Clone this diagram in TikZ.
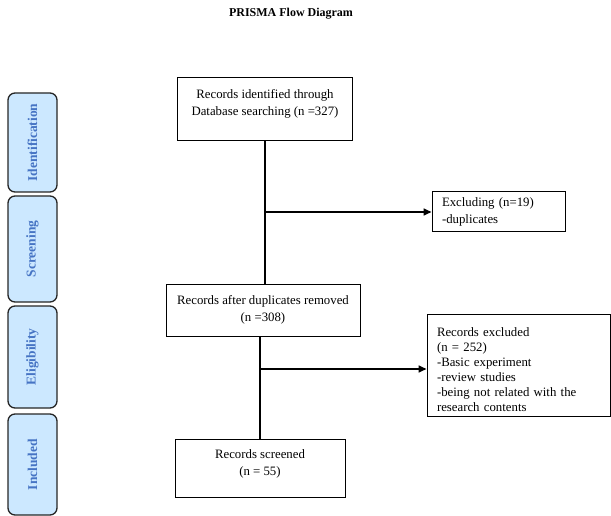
\documentclass[tikz,border=0pt]{standalone}
\usepackage{fontspec}
\setmainfont{Liberation Serif}
\usepackage{xcolor}
\usetikzlibrary{arrows.meta}
\definecolor{stagefill}{RGB}{204,232,255}
\definecolor{stagetext}{RGB}{70,116,196}
\newcommand{\padbelow}[1]{\rule[-#1]{0pt}{#1}}
\newcommand{\padabove}[1]{\rule{0pt}{#1}}

\begin{document}
\begin{tikzpicture}[x=1pt, y=-1pt,
  stage/.style={draw=black!85, line width=1.3pt, rounded corners=7pt, fill=stagefill, text=stagetext, rotate=90, minimum height=49pt, inner sep=0pt, font=\fontsize{13.5}{15}\selectfont\bfseries},
  recbox/.style={draw, line width=1pt, align=center, inner sep=0pt, font=\fontsize{12.8}{17}\selectfont},
  exclbox/.style={draw, line width=1pt, align=left, inner xsep=10pt, inner ysep=0pt, font=\fontsize{12.8}{15}\selectfont},
  flow/.style={line width=1.6pt},
  flowarrow/.style={flow, -{Triangle[length=8pt,width=7pt]}}]
\useasboundingbox (0,0) rectangle (611,516);
%%%%% Title %%%%%
\node[font=\fontsize{12}{14}\selectfont\bfseries] (title) at (291,14) {PRISMA Flow Diagram};
%%%%% Stages %%%%%
\node[stage, minimum width=99pt] (ident) at (32.5,142.5) {Identification};
\node[stage, minimum width=106pt] (screen) at (32.5,249) {Screening};
\node[stage, minimum width=102pt] (elig) at (32.5,357) {Eligibility};
\node[stage, minimum width=101pt] (incl) at (32.5,464.5) {Included};
%%%%% Records %%%%%
\node[recbox, minimum width=175pt, minimum height=63pt] (idbox) at (265,109.5) {Records identified through\\Database searching (n =327)\padbelow{15pt}};
\node[recbox, minimum width=194pt, minimum height=52pt] (dupbox) at (263,310) {Records after duplicates removed\\(n =308)};
\node[recbox, minimum width=170pt, minimum height=58pt] (screened) at (260,468) {Records screened\\(n = 55)\padbelow{10pt}};
%%%%% Exclusions %%%%%
\node[exclbox, text width=113pt, minimum height=40pt, font=\fontsize{12.8}{17}\selectfont] (excl1) at (498.5,212) {Excluding (n=19)\\-duplicates};
\node[exclbox, text width=163pt, minimum height=102pt] (excl2) at (518.5,365) {\padabove{19pt}Records excluded\\(n = 252)\\-Basic experiment\\-review studies\\-being not related with the\\research contents};
%%%%% Flow %%%%%
\coordinate (split1) at (idbox.south |- excl1.west);
\coordinate (split2) at (260,369);
\draw[flow] (idbox.south) -- (idbox.south |- dupbox.north);
\draw[flowarrow] (split1) -- (excl1.west);
\draw[flow] (screened.north |- dupbox.south) -- (screened.north);
\draw[flowarrow] (split2) -- (split2 -| excl2.west);
\end{tikzpicture}
\end{document}
